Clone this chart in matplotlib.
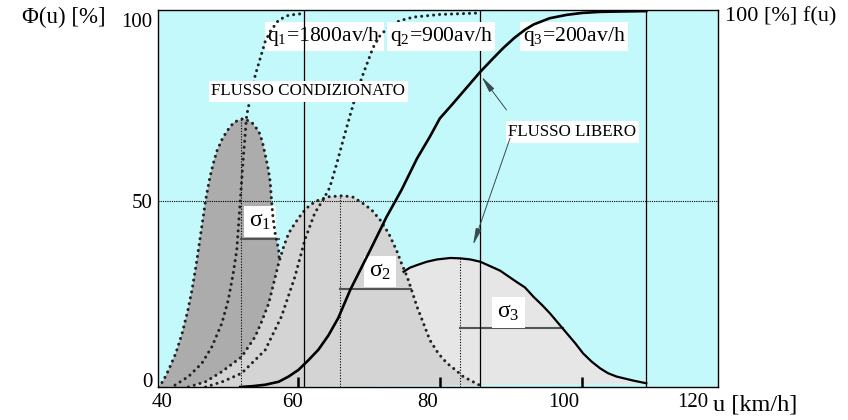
import matplotlib
matplotlib.use("Agg")
import matplotlib.pyplot as plt
import numpy as np

plt.rcParams['font.family'] = ['Liberation Serif', 'DejaVu Serif']
plt.rcParams['mathtext.fontset'] = 'custom'
plt.rcParams['mathtext.rm'] = 'Liberation Serif'
plt.rcParams['mathtext.it'] = 'Liberation Serif:italic'

# speed distributions (u in km/h, value in %)
dist1_u = [40.3, 41.0, 41.8, 42.8, 43.7, 44.5, 45.1, 45.7, 46.2, 46.7, 47.0, 47.6, 48.1, 48.6, 49.3, 50.0,
           51.0, 52.3, 53.5, 54.5, 55.0, 55.4, 55.8, 56.1, 56.3, 56.5, 56.8, 57.3, 57.4]
dist1_v = [0.0, 1.5, 4.6, 9.0, 14.4, 20.5, 26.1, 33.0, 39.5, 46.0, 50.0, 56.1, 60.0, 63.3, 66.3, 68.6,
           71.0, 72.0, 71.0, 68.6, 65.8, 62.4, 58.8, 55.2, 50.0, 45.5, 41.3, 36.8, 34.0]

dist2_u = [44.6, 47.0, 49.3, 52.1, 54.0, 54.9, 55.9, 56.6, 57.3, 58.0, 58.7, 59.6, 60.6, 61.7, 62.9, 64.3,
           65.7, 66.4, 67.8, 69.2, 70.4, 71.6, 72.8, 73.9, 74.6, 75.4, 76.1, 76.8, 77.7, 78.6, 79.8,
           81.0, 82.2, 83.3, 85.7]
dist2_v = [0.0, 1.4, 4.1, 8.1, 13.5, 17.5, 22.4, 27.8, 33.2, 37.6, 41.2, 43.9, 46.6, 48.8, 50.1, 51.0,
           51.2, 51.3, 50.9, 49.2, 47.5, 44.8, 41.2, 36.7, 33.2, 29.6, 25.6, 21.5, 17.1, 12.6, 9.0,
           6.4, 4.6, 2.8, 0.4]

dist3_u = [51.9, 56.0, 60.0, 64.0, 68.0, 72.0, 74.9, 75.8, 76.8, 78.2, 79.6, 81.5, 82.9, 84.3, 85.7, 87.1,
           88.5, 90.8, 92.0, 93.2, 94.4, 95.5, 96.7, 97.9, 99.1, 100.2, 101.4, 102.6, 103.7, 104.9,
           107.3, 109.1]
dist3_v = [0.0, 2.5, 7.0, 14.0, 21.0, 27.0, 30.9, 32.0, 32.7, 33.6, 34.2, 34.6, 34.5, 34.2, 33.6, 32.4,
           31.2, 28.2, 26.7, 24.2, 22.0, 19.8, 17.1, 14.4, 11.7, 9.0, 6.8, 5.0, 3.7, 2.8,
           1.7, 1.0]

# cumulative curves
cum1_u = [42.7, 44.6, 46.5, 47.9, 49.3, 50.2, 50.9, 51.4, 51.9, 52.3, 52.8, 53.3, 54.0, 54.7, 55.4, 56.1,
          57.3, 58.7, 61.0]
cum1_v = [0.5, 2.8, 6.4, 10.8, 17.1, 23.3, 30.5, 36.7, 50.1, 61.0, 72.9, 77.4, 83.6, 88.1, 92.6, 95.3,
          98.4, 99.7, 100.2]

cum2_u = [47.0, 49.5, 52.1, 55.4, 57.7, 59.6, 61.0, 62.4, 63.6, 64.5, 65.5, 66.5, 67.4, 68.3, 69.2, 70.6,
          71.5, 72.5, 74.3, 76.3, 80.0, 85.7]
cum2_v = [0.0, 1.5, 3.7, 9.9, 18.9, 29.6, 39.5, 46.7, 50.3, 53.5, 60.0, 67.0, 73.1, 79.0, 83.9, 91.0,
          94.0, 96.0, 98.2, 99.2, 99.9, 100.3]

cum3_u = [51.9, 53.5, 55.4, 57.3, 58.7, 60.1, 61.5, 62.9, 64.3, 65.7, 67.4, 70.2, 72.5, 74.6, 76.8, 78.6,
          80.0, 81.9, 83.3, 85.7, 87.5, 89.0, 90.5, 92.0, 93.2, 95.5, 97.9, 100.0, 102.6, 105.5, 109.1]
cum3_v = [0.0, 0.2, 0.6, 1.4, 2.8, 4.6, 7.2, 10.0, 13.8, 18.5, 26.1, 36.7, 45.6, 52.8, 61.3, 67.1,
          72.0, 76.1, 79.2, 84.5, 88.1, 91.0, 93.6, 95.8, 97.2, 98.9, 99.8, 100.3, 100.6, 100.7, 100.8]

means = [52.0, 66.0, 82.8]
peaks = [72.0, 51.3, 34.6]
sigma_end = [57.3, 76.0, 97.4]
sigma_v = [39.8, 26.3, 15.8]
u_max = [60.9, 85.7, 109.1]

fig = plt.figure(figsize=(8.48, 4.2), dpi=100)
ax = fig.add_axes([0.1863, 0.0786, 0.6604, 0.8976])
ax.set_facecolor('#c3f9fb')
ax.set_xlim(40.3, 119.2)
ax.set_ylim(0, 101.1)

dots = dict(color='#222222', lw=2.2, linestyle=(0, (0.01, 1.95)), dash_capstyle='round')

# fills
ax.fill(dist3_u + [dist3_u[0]], dist3_v + [0], color='#e6e6e6', lw=0, zorder=1)
ax.fill(dist2_u + [dist2_u[0]], dist2_v + [0], color='#d4d4d4', lw=0, zorder=1.5)
# dark region: dist1 down to its junction with dist2, then along dist2 left side
d2u = np.array(dist2_u); d2v = np.array(dist2_v)
low = (d2v < dist1_v[-1]) & (d2u < 60)
poly_u = dist1_u + list(d2u[low][::-1])
poly_v = dist1_v + list(d2v[low][::-1])
ax.fill(poly_u, poly_v, color='#acacac', lw=0, zorder=2)

# outlines
ax.plot(dist1_u, dist1_v, **dots, zorder=4)
ax.plot(dist2_u, dist2_v, **dots, zorder=4)
vis = np.array(dist3_u) >= 74.9
ax.plot(np.array(dist3_u)[vis], np.array(dist3_v)[vis], color='black', lw=1.6, zorder=4)

ax.plot(cum1_u, cum1_v, **dots, zorder=4)
ax.plot(cum2_u, cum2_v, **dots, zorder=4)
ax.plot(cum3_u, cum3_v, color='black', lw=1.9, zorder=4)

# means and sigmas
for m, p, se, sv in zip(means, peaks, sigma_end, sigma_v):
    ax.plot([m, m], [0, p], color='black', lw=0.8, linestyle=(0, (1, 1.5)), zorder=3)
    ax.plot([m, se], [sv, sv], color='#555555', lw=1.5, zorder=3)

for um in u_max:
    ax.axvline(um, color='black', lw=0.9, zorder=4)

ax.axhline(50, color='black', lw=0.8, linestyle=(0, (1, 1)), zorder=3.5)

box = dict(facecolor='white', edgecolor='none', pad=2)
sbox = dict(facecolor='white', edgecolor='none', pad=3.5)
ax.text(54.7, 44.3, r'σ$_1$', fontsize=17, ha='center', va='center', bbox=sbox, zorder=3.8)
ax.text(71.6, 31.0, r'σ$_2$', fontsize=17, ha='center', va='center', bbox=sbox, zorder=3.8)
ax.text(89.7, 19.9, r'σ$_3$', fontsize=17, ha='center', va='center', bbox=sbox, zorder=3.8)

ax.text(63.7, 94.0, r'q$_1$=1800av/h', fontsize=15.6, ha='center', va='center', bbox=box, zorder=3.8)
ax.text(80.2, 94.0, r'q$_2$=900av/h', fontsize=15.6, ha='center', va='center', bbox=box, zorder=5)
ax.text(98.9, 94.0, r'q$_3$=200av/h', fontsize=15.6, ha='center', va='center', bbox=box, zorder=3.8)
ax.text(61.5, 79.3, 'FLUSSO CONDIZIONATO', fontsize=12.2, ha='center', va='center', bbox=box, zorder=5)
ax.text(98.7, 68.4, 'FLUSSO LIBERO', fontsize=12.2, ha='center', va='center', bbox=box, zorder=5)

arrow = dict(arrowstyle='-|>,head_length=1.0,head_width=0.18', color='#3a4a4a', lw=0.7, shrinkA=0, shrinkB=0)
ax.annotate('', xy=(85.9, 83.2), xytext=(89.4, 74.3), arrowprops=arrow, zorder=5)
ax.annotate('', xy=(84.7, 38.1), xytext=(89.9, 66.7), arrowprops=arrow, zorder=5)

# ticks
ax.set_xticks([40.9, 59.3, 78.3, 97.4, 115.6])
ax.set_xticklabels(['40', '60', '80', '100', '120'])
ax.set_xticks([60, 80, 100], minor=True)
ax.tick_params(axis='x', which='major', length=0, labelsize=15, pad=4)
ax.tick_params(axis='x', which='minor', direction='in', length=7, width=1.8, color='black')
ax.set_yticks([1.9, 50, 98.5])
ax.set_yticklabels(['0', '50', '100'])
ax.tick_params(axis='y', length=0, labelsize=15, pad=4)

for s in ax.spines.values():
    s.set_linewidth(1.0)
    s.set_zorder(6)

fig.text(22 / 848, 1 - 17 / 420, 'Φ(u) [%]', fontsize=16.5, ha='left', va='center')
fig.text(725 / 848, 1 - 17 / 420, '100 [%] f(u)', fontsize=16, ha='left', va='center')
fig.text(713 / 848, 1 - 405 / 420, 'u [km/h]', fontsize=17.5, ha='left', va='center')

fig.savefig('out.png', dpi=100)
